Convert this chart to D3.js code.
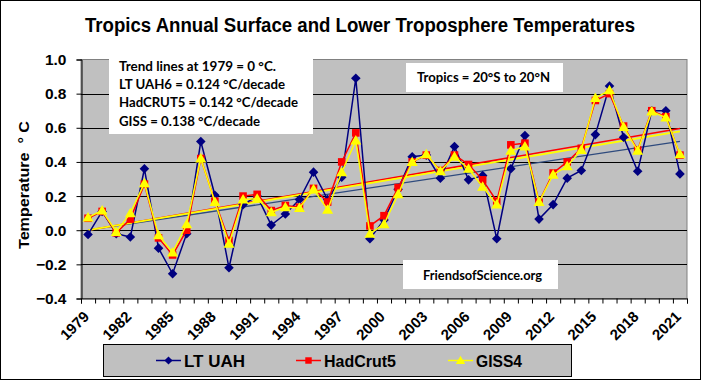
<!DOCTYPE html>
<html>
<head>
<meta charset="utf-8">
<script src="https://cdn.jsdelivr.net/npm/d3@7/dist/d3.min.js"></script>
<style>
  body { margin: 0; background: #fff; }
  svg { display: block; }
  text { font-family: "Liberation Sans", Arial, sans-serif; }
  .note { font-family: Lato, "Open Sans", sans-serif; font-weight: bold; }
</style>
</head>
<body>
<div id="chart"></div>
<script>
"use strict";

//categories
var years = d3.range(1979, 2022);

//annual anomalies
var uah = [-0.025, 0.11, -0.02, -0.04, 0.36, -0.105, -0.255, -0.02, 0.52,
  0.205, -0.22, 0.15, 0.2, 0.03, 0.095, 0.18, 0.34,
  0.18, 0.31, 0.89, -0.05, 0.06, 0.24, 0.43,
  0.44, 0.305, 0.49, 0.295, 0.32, -0.05, 0.36, 0.555, 0.065,
  0.15, 0.305, 0.35, 0.56, 0.845, 0.545, 0.345, 0.7, 0.7, 0.33];

var hadcrut = [0.07, 0.11, -0.015, 0.065, 0.27, -0.045, -0.145, 0.0, 0.42,
  0.17, -0.06, 0.2, 0.21, 0.115, 0.145, 0.135, 0.245,
  0.165, 0.4, 0.57, 0.025, 0.085, 0.25, 0.4,
  0.44, 0.35, 0.44, 0.385, 0.295, 0.17, 0.5, 0.51, 0.165,
  0.335, 0.4, 0.48, 0.76, 0.8, 0.61, 0.47, 0.7, 0.665, 0.44];

var giss = [0.075, 0.115, -0.01, 0.1, 0.275, -0.03, -0.13, 0.035, 0.42,
  0.165, -0.08, 0.18, 0.185, 0.105, 0.135, 0.13, 0.24,
  0.12, 0.34, 0.525, -0.02, 0.035, 0.21, 0.4,
  0.445, 0.345, 0.43, 0.36, 0.255, 0.15, 0.465, 0.49, 0.165,
  0.325, 0.375, 0.47, 0.775, 0.82, 0.605, 0.465, 0.695, 0.66, 0.445];

//trend slopes in degC per decade (trend = 0 at 1979)
var slopes = [0.124, 0.142, 0.138];

var seriesNames = ["LT UAH", "HadCrut5", "GISS4"];
var yTicks = [-0.4, -0.2, 0.0, 0.2, 0.4, 0.6, 0.8, 1.0];
var xLabelYears = d3.range(1979, 2022, 3);

var noteLines = [
  "Trend lines at 1979  = 0 \u00B0C.",
  "LT UAH6 = 0.124  \u00B0C/decade",
  "HadCRUT5 = 0.142  \u00B0C/decade",
  "GISS = 0.138  \u00B0C/decade"
];

var w = 701, h = 380;
var pLeft = 81, pRight = 687, pTop = 59.5, pBottom = 298.5;

var svg = d3.select("#chart").append("svg")
  .attr("width", w).attr("height", h);

svg.append("rect")
  .attr("x", 0.5).attr("y", 0.5)
  .attr("width", w - 1).attr("height", h - 1)
  .attr("fill", "#fff").attr("stroke", "#000");

var x = d3.scaleBand().domain(years).range([pLeft, pRight]);
var xc = function(yr) { return x(yr) + x.bandwidth() / 2; };
var y = d3.scaleLinear().domain([-0.4, 1.0]).range([pBottom, pTop]);

//plot area
svg.append("rect")
  .attr("x", pLeft).attr("y", pTop)
  .attr("width", pRight - pLeft).attr("height", pBottom - pTop)
  .attr("fill", "#c0c0c0").attr("stroke", "#808080");

svg.append("g").selectAll("line")
  .data(yTicks.filter(function(d) { return d > -0.4 && d < 1.0; }))
  .join("line")
  .attr("x1", pLeft).attr("x2", pRight)
  .attr("y1", function(d) { return Math.round(y(d)) + 0.5; })
  .attr("y2", function(d) { return Math.round(y(d)) + 0.5; })
  .attr("stroke", "#000");

//y axis
var yAxis = svg.append("g")
  .attr("transform", "translate(" + (pLeft + 0.5) + ",0)")
  .call(d3.axisLeft(y).tickValues(yTicks).tickSize(5).tickPadding(10)
    .tickFormat(d3.format(".1f")));
yAxis.select(".domain").attr("stroke", "#000");
yAxis.selectAll("text")
  .attr("font-size", 15.5).attr("font-weight", "bold")
  .attr("font-family", "Liberation Sans, Arial, sans-serif").attr("fill", "#000");

//x axis: ticks between categories
var xEdge = d3.scaleLinear().domain([0, years.length]).range([pLeft, pRight]);
var xAxis = svg.append("g")
  .attr("transform", "translate(0," + pBottom + ")")
  .call(d3.axisBottom(xEdge).tickValues(d3.range(years.length + 1))
    .tickSize(5).tickFormat(""));
xAxis.select(".domain").attr("stroke", "#000");

svg.append("g").selectAll("text")
  .data(xLabelYears)
  .join("text")
  .attr("transform", function(d) {
    return "translate(" + (xc(d) + 2) + "," + (pBottom + 19) + ") rotate(-45)";
  })
  .attr("text-anchor", "end")
  .attr("font-size", 15).attr("font-weight", "bold")
  .text(function(d) { return d; });

//y title
svg.append("text")
  .attr("transform", "translate(29,185) rotate(-90)")
  .attr("text-anchor", "middle")
  .attr("font-size", 15.5).attr("font-weight", "bold")
  .attr("textLength", 128).attr("lengthAdjust", "spacingAndGlyphs")
  .text("Temperature \u00A0\u00B0 C");

//title
svg.append("text")
  .attr("x", 360).attr("y", 32)
  .attr("text-anchor", "middle")
  .attr("font-size", 20).attr("font-weight", "bold")
  .attr("textLength", 550).attr("lengthAdjust", "spacingAndGlyphs")
  .text("Tropics Annual Surface and Lower Troposphere Temperatures");

//note boxes
var noteWidths = [157, 166, 179, 141];
svg.append("rect").attr("x", 109).attr("y", 59).attr("width", 204).attr("height", 75)
  .attr("fill", "#fff");
svg.append("g").selectAll("text")
  .data(noteLines)
  .join("text")
  .attr("class", "note")
  .attr("x", 119)
  .attr("y", function(d, i) { return 70.5 + i * 18.4; })
  .attr("font-size", 14)
  .attr("textLength", function(d, i) { return noteWidths[i]; })
  .attr("lengthAdjust", "spacingAndGlyphs")
  .text(function(d) { return d; });

svg.append("rect").attr("x", 406).attr("y", 63).attr("width", 157).attr("height", 29)
  .attr("fill", "#fff");
svg.append("text").attr("class", "note")
  .attr("x", 417).attr("y", 81.5).attr("font-size", 14)
  .attr("textLength", 133).attr("lengthAdjust", "spacingAndGlyphs")
  .text("Tropics = 20\u00B0S to 20\u00B0N");

svg.append("rect").attr("x", 403).attr("y", 260).attr("width", 155).attr("height", 29)
  .attr("fill", "#fff");
svg.append("text").attr("class", "note")
  .attr("x", 423).attr("y", 280).attr("font-size", 14)
  .attr("textLength", 119).attr("lengthAdjust", "spacingAndGlyphs")
  .text("FriendsofScience.org");

//trend lines
var trendColors = ["#2e4a7d", "#ff0000", "#ffff00"];
var trendWidths = [1.3, 1.5, 1.8];
var first = years[0], last = years[years.length - 1];
svg.append("g").selectAll("line")
  .data(slopes)
  .join("line")
  .attr("x1", xc(first)).attr("y1", y(0))
  .attr("x2", xc(last))
  .attr("y2", function(d) { return y(d * (last - first) / 10); })
  .attr("stroke", function(d, i) { return trendColors[i]; })
  .attr("stroke-width", function(d, i) { return trendWidths[i]; });

//series
var diamond = "M0,-4.8L4.8,0L0,4.8L-4.8,0Z";
var square = "M-3.8,-3.8H3.8V3.8H-3.8Z";
var triangle = "M0,-5.5L5.5,4L-5.5,4Z";
var series = [
  { name: seriesNames[0], values: uah, color: "#000080", shape: diamond },
  { name: seriesNames[1], values: hadcrut, color: "#ff0000", shape: square },
  { name: seriesNames[2], values: giss, color: "#ffff00", shape: triangle }
];

var line = d3.line()
  .x(function(d, i) { return xc(years[i]); })
  .y(function(d) { return y(d); });

series.forEach(function(s) {
  var g = svg.append("g");
  g.append("path")
    .attr("d", line(s.values))
    .attr("fill", "none")
    .attr("stroke", s.color)
    .attr("stroke-width", 1.5);
  g.selectAll("path.mk")
    .data(s.values)
    .join("path")
    .attr("class", "mk")
    .attr("d", s.shape)
    .attr("transform", function(d, i) {
      return "translate(" + xc(years[i]) + "," + y(d) + ")";
    })
    .attr("fill", s.color);
});

//legend
var legX = [156, 296, 448];
var legWidths = [61, 72, 46];
svg.append("rect").attr("x", 103.5).attr("y", 344.5).attr("width", 468).attr("height", 32)
  .attr("fill", "#c0c0c0").attr("stroke", "#000");
series.forEach(function(s, i) {
  var g = svg.append("g").attr("transform", "translate(" + legX[i] + ",360.5)");
  g.append("line").attr("x1", 0).attr("x2", 25)
    .attr("stroke", s.color).attr("stroke-width", 1.5);
  g.append("path").attr("d", s.shape)
    .attr("transform", "translate(12.5,0) scale(0.85)")
    .attr("fill", s.color);
  g.append("text")
    .attr("x", 28).attr("y", 6)
    .attr("font-size", 16.5).attr("font-weight", "bold")
    .attr("textLength", legWidths[i]).attr("lengthAdjust", "spacingAndGlyphs")
    .text(s.name);
});
</script>
</body>
</html>
